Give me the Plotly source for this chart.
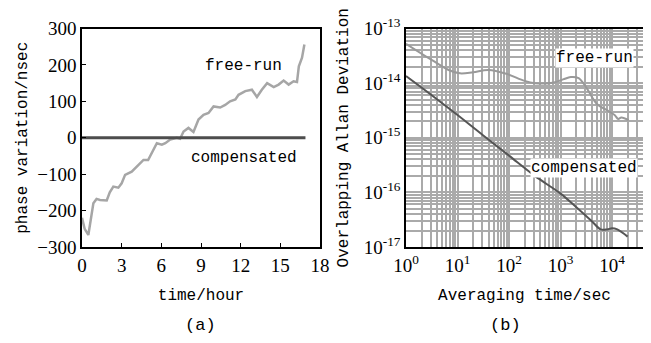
import plotly.graph_objects as go

# ---------------- data: panel (a) ----------------
time_hours = [0.0, 0.2, 0.48, 0.86, 1.1, 1.36, 1.87, 2.1, 2.37, 2.75, 3.0, 3.26, 3.76,
              4.14, 4.65, 5.0, 5.3, 5.66, 6.04, 6.3, 6.67, 7.17, 7.42, 7.68, 8.05,
              8.43, 8.81, 9.19, 9.57, 9.95, 10.45, 10.83, 11.2, 11.6, 11.84, 12.35,
              12.85, 13.23, 13.6, 14.0, 14.5, 14.87, 15.25, 15.63, 16.0, 16.26, 16.4,
              16.64, 16.82]
phase_free_run = [-220, -250, -267, -180, -168, -171, -172, -150, -134, -137, -125, -102,
                  -93, -79, -61, -61, -38, -15, -19, -15, -5, 0, -3, 17, 27,
                  16, 50, 63, 68, 86, 83, 90, 100, 105, 118, 128,
                  132, 112, 132, 150, 139, 146, 157, 146, 155, 153, 196,
                  220, 256]
time_comp = [0.0, 4.0, 8.0, 12.0, 16.9]
phase_comp = [0, 0, 0, 0, 0]

x_ticks_a = [0, 3, 6, 9, 12, 15, 18]
y_ticks_a = [-300, -200, -100, 0, 100, 200, 300]

# ---------------- data: panel (b) ----------------
tau_free_run = [1, 3.2, 7.1, 11.2, 20, 40, 89, 200, 316, 708, 1120, 1580, 2240,
                3160, 5010, 7940, 11200, 13200, 15100, 20900]
adev_free_run = [5.25e-14, 2.63e-14, 1.70e-14, 1.51e-14, 1.58e-14, 1.74e-14, 1.48e-14,
                 1.10e-14, 1.00e-14, 1.02e-14, 1.17e-14, 1.29e-14, 1.23e-14, 8.3e-15,
                 4.2e-15, 3.2e-15, 2.6e-15, 2.2e-15, 2.35e-15, 2.1e-15]
tau_comp = [1, 3.16, 10, 31.6, 100, 316, 1000, 2000, 4000, 6000, 8000, 10000, 12600, 20000]
adev_comp = [1.35e-14, 6.0e-15, 2.6e-15, 1.1e-15, 4.7e-16, 2.0e-16, 9.5e-17, 5.4e-17,
             3.0e-17, 2.1e-17, 2.1e-17, 2.2e-17, 2.1e-17, 1.55e-17]

x_tickvals_b = [1, 10, 100, 1000, 10000]
x_ticktext_b = ["10<sup>0</sup>", "10<sup>1</sup>", "10<sup>2</sup>", "10<sup>3</sup>", "10<sup>4</sup>"]
y_tickvals_b = [1e-17, 1e-16, 1e-15, 1e-14, 1e-13]
y_ticktext_b = ["10<sup>-17</sup>", "10<sup>-16</sup>", "10<sup>-15</sup>",
                "10<sup>-14</sup>", "10<sup>-13</sup>"]

# the page body has an 8px margin, so the figure is drawn 8px right/down
OFF = 8
W, H = 651 - OFF, 343 - OFF
SERIF = "Liberation Serif"
MONO = "Liberation Mono"


def px(x):
    return (x - OFF) / W


def py(y):
    return 1 - (y - OFF) / H


fig = go.Figure()

fig.add_trace(go.Scatter(x=time_hours, y=phase_free_run, mode="lines",
                         line=dict(color="#a6a6a6", width=2.5),
                         xaxis="x", yaxis="y", showlegend=False, name="free-run"))
fig.add_trace(go.Scatter(x=time_comp, y=phase_comp, mode="lines",
                         line=dict(color="#4d4d4d", width=3),
                         xaxis="x", yaxis="y", showlegend=False, name="compensated"))

fig.add_trace(go.Scatter(x=tau_free_run, y=adev_free_run, mode="lines",
                         line=dict(color="#999999", width=2, shape="spline"),
                         xaxis="x2", yaxis="y2", showlegend=False, name="free-run"))
fig.add_trace(go.Scatter(x=tau_comp, y=adev_comp, mode="lines",
                         line=dict(color="#555555", width=2, shape="spline"),
                         xaxis="x2", yaxis="y2", showlegend=False, name="compensated"))

ydom = [py(247), py(28.5)]

fig.update_layout(
    width=W, height=H, autosize=False,
    margin=dict(l=0, r=0, t=0, b=0),
    paper_bgcolor="white", plot_bgcolor="white",
    font=dict(family=SERIF, size=18, color="black"),
    xaxis=dict(domain=[px(82), px(320)], range=[0, 18], tickvals=x_ticks_a, automargin=False,
               showline=True, mirror=True, linecolor="black", linewidth=1.5,
               ticks="inside", ticklen=4, tickcolor="black", showgrid=False, zeroline=False,
               tickfont=dict(family=SERIF, size=19),
               title=dict(text="time/hour", font=dict(family=MONO, size=16), standoff=14)),
    yaxis=dict(domain=ydom, range=[-300, 300], tickvals=y_ticks_a, automargin=False,
               showline=True, mirror=True, linecolor="black", linewidth=1.5,
               ticks="inside", ticklen=4, tickcolor="black", showgrid=False, zeroline=False,
               tickfont=dict(family=SERIF, size=19),
               title=dict(text="phase variation/nsec", font=dict(family=MONO, size=16), standoff=6)),
    xaxis2=dict(domain=[px(406), px(643)], type="log", range=[0, 4.6], automargin=False,
                tickvals=x_tickvals_b, ticktext=x_ticktext_b, anchor="y2",
                showline=True, mirror=True, linecolor="black", linewidth=1.5,
                ticks="", showgrid=True, gridcolor="#aaaaaa", gridwidth=1.5,
                minor=dict(showgrid=True, dtick="D1", gridcolor="#aaaaaa", gridwidth=1.5),
                zeroline=False, tickfont=dict(family=SERIF, size=19),
                title=dict(text="Averaging time/sec", font=dict(family=MONO, size=16), standoff=14)),
    yaxis2=dict(domain=ydom, type="log", range=[-17, -13], anchor="x2", automargin=False,
                tickvals=y_tickvals_b, ticktext=y_ticktext_b,
                showline=True, mirror=True, linecolor="black", linewidth=1.5,
                ticks="", showgrid=True, gridcolor="#aaaaaa", gridwidth=1.5,
                minor=dict(showgrid=True, dtick="D1", gridcolor="#aaaaaa", gridwidth=1.5),
                zeroline=False, tickfont=dict(family=SERIF, size=19),
                title=dict(text="Overlapping Allan Deviation", font=dict(family=MONO, size=16), standoff=11)),
)

ann_font = dict(family=MONO, size=16, color="black")
fig.add_annotation(x=px(243), y=py(66), xref="paper", yref="paper", text="free-run",
                   showarrow=False, font=ann_font, xanchor="center", yanchor="middle")
fig.add_annotation(x=px(244), y=py(158), xref="paper", yref="paper", text="compensated",
                   showarrow=False, font=ann_font, xanchor="center", yanchor="middle")
fig.add_annotation(x=px(594), y=py(58), xref="paper", yref="paper", text="free-run",
                   showarrow=False, font=ann_font, xanchor="center", yanchor="middle",
                   bgcolor="white", borderpad=0)
fig.add_annotation(x=px(584), y=py(168), xref="paper", yref="paper", text="compensated",
                   showarrow=False, font=ann_font, xanchor="center", yanchor="middle",
                   bgcolor="white", borderpad=0)
fig.add_annotation(x=px(200), y=py(325), xref="paper", yref="paper", text="(a)",
                   showarrow=False, font=dict(family=MONO, size=17), xanchor="center", yanchor="middle")
fig.add_annotation(x=px(505), y=py(325), xref="paper", yref="paper", text="(b)",
                   showarrow=False, font=dict(family=MONO, size=17), xanchor="center", yanchor="middle")

fig.write_html("out.html")
